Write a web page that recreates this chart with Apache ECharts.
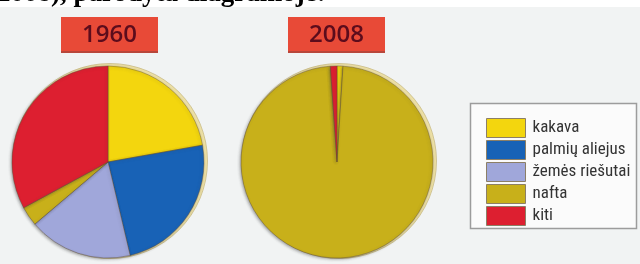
<!DOCTYPE html>
<html>
<head>
<meta charset="utf-8">
<script src="https://cdn.jsdelivr.net/npm/echarts@6/dist/echarts.min.js"></script>
<style>
html,body{margin:0;padding:0;background:#ffffff;}
#c{width:640px;height:264px;}
</style>
</head>
<body>
<div id="c"></div>
<script>
const categories = ['kakava', 'palmių aliejus', 'žemės riešutai', 'nafta', 'kiti'];
const colors = ['#f3d60e', '#1862b6', '#a0a7da', '#c8b01a', '#dd1f30'];
const years = ['1960', '2008'];
const values1960 = [22.2, 24.1, 17.5, 3.3, 32.9];
const values2008 = [1.0, 0, 0, 97.9, 1.1];
const headerText = '2008), parodyta diagramoje:';

const chart = echarts.init(document.getElementById('c'), null, {renderer: 'canvas'});

function buildData(vals) {
  return categories.map((n, i) => ({name: n, value: vals[i], itemStyle: {color: colors[i]}}))
    .filter(d => d.value > 0);
}

const centers = [[108, 162], [337, 162]];
const R = 96;

const graphics = [
  {type: 'rect', shape: {x: 0, y: 7, width: 640, height: 257}, style: {fill: '#f1f3f3'}, z: -10, silent: true},
  {type: 'text', x: -3, y: 8, style: {text: headerText, font: 'bold 27px "Liberation Serif", serif', fill: '#000', textVerticalAlign: 'bottom'}, z: 10},
  // legend frame
  {type: 'rect', shape: {x: 470.5, y: 103.5, width: 166, height: 125}, style: {fill: '#fbfbfb', stroke: '#9c9c9c', lineWidth: 1.5}, z: -5}
];
const boxes = [[61, 17], [288, 17]];
years.forEach((y, i) => {
  graphics.push({type: 'rect', shape: {x: boxes[i][0], y: boxes[i][1] + 1, width: 97, height: 35}, style: {fill: '#b8463a'}, z: 1});
  graphics.push({type: 'rect', shape: {x: boxes[i][0], y: boxes[i][1], width: 97, height: 34}, style: {fill: '#e84a37'}, z: 2});
  graphics.push({type: 'text', x: boxes[i][0] + 48.5, y: boxes[i][1] + 18, style: {text: y, font: '600 24px "Open Sans", "Liberation Sans", sans-serif', fill: '#5c0c1c', textAlign: 'center', textVerticalAlign: 'middle'}, z: 3});
  // cream rim behind pie
  graphics.push({type: 'circle', shape: {cx: centers[i][0] + 2, cy: centers[i][1] - 1, r: R + 1.5}, style: {fill: '#ecdfa4', stroke: '#c9bb86', lineWidth: 0.8}, z: -1});
});

const pieBase = {
  type: 'pie',
  radius: R,
  startAngle: 90,
  clockwise: true,
  label: {show: false},
  labelLine: {show: false},
  silent: true,
  animation: false,
  itemStyle: {borderColor: 'rgba(90,70,50,0.55)', borderWidth: 0.7, shadowBlur: 3, shadowColor: 'rgba(60,60,60,0.45)', shadowOffsetX: -1, shadowOffsetY: 1}
};

chart.setOption({
  backgroundColor: 'transparent',
  animation: false,
  graphic: graphics,
  legend: {
    orient: 'vertical',
    left: 481,
    top: 113,
    itemWidth: 39,
    itemHeight: 19,
    itemGap: 2,
    icon: 'rect',
    selectedMode: false,
    data: categories,
    itemStyle: {borderColor: '#8c7f66', borderWidth: 1},
    textStyle: {fontSize: 17, color: '#333', fontFamily: '"Liberation Sans Narrow", "Roboto Condensed", Roboto, sans-serif', padding: [0, 0, 0, 2]}
  },
  series: [
    Object.assign({}, pieBase, {name: years[0], center: centers[0], data: buildData(values1960)}),
    Object.assign({}, pieBase, {name: years[1], center: centers[1], data: buildData(values2008)})
  ]
});
</script>
</body>
</html>
